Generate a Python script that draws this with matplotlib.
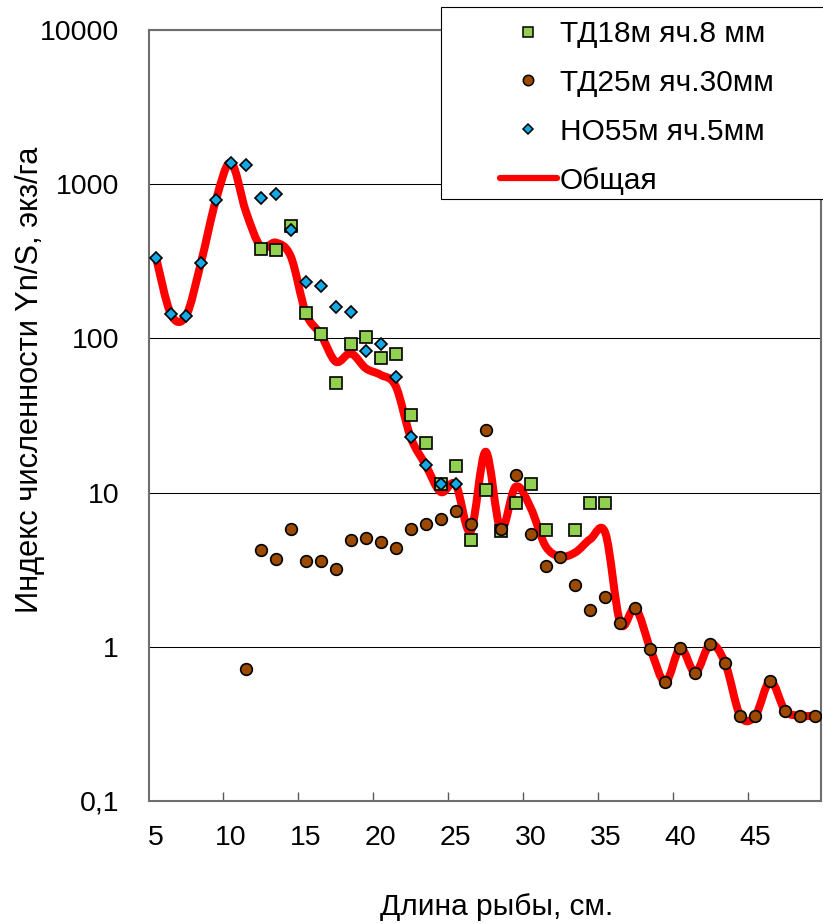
import numpy as np
import matplotlib
matplotlib.use("Agg")
import matplotlib.pyplot as plt
from matplotlib.path import Path
from matplotlib.patches import PathPatch, Rectangle
from matplotlib.lines import Line2D
from matplotlib.ticker import NullLocator

plt.rcParams["font.family"] = ["Liberation Sans", "DejaVu Sans"]

# ТД18м, ячея 8 мм
td18_len = [12, 13, 14, 15, 16, 17, 18, 19, 20, 21, 22, 23, 24, 25, 26, 27, 28, 29, 30, 31, 33, 34, 35]
td18_val = [382, 373, 535, 147, 106, 51, 92, 102, 75, 79, 32, 21, 11.3, 14.9, 4.9, 10.4, 5.6, 8.5, 11.3,
            5.7, 5.7, 8.5, 8.5]

# ТД25м, ячея 30 мм
td25_len = list(range(11, 50))
td25_val = [0.72, 4.25, 3.7, 5.8, 3.6, 3.6, 3.2, 4.9, 5.1, 4.75, 4.35, 5.8, 6.3, 6.7, 7.6, 6.3, 25.5, 5.8,
            13.0, 5.4, 3.35, 3.85, 2.5, 1.73, 2.09, 1.42, 1.78, 0.97, 0.59, 0.98, 0.68, 1.04, 0.78, 0.357,
            0.357, 0.6, 0.385, 0.357, 0.357]

# НО55м, ячея 5 мм
no55_len = list(range(5, 26))
no55_val = [334, 143, 140, 310, 790, 1380, 1330, 810, 860, 505, 233, 220, 161, 148, 83, 92, 56.5, 22.8,
            15.1, 11.3, 11.3]

# общая кривая
total_len = list(range(5, 50))
total_val = [334, 143, 140, 310, 790, 1380, 664, 393, 418, 339, 146, 106, 70.6, 80, 64, 58, 49, 22.8,
             15.1, 10.1, 11.3, 5.6, 18.4, 5.8, 10.9, 8.0, 4.5, 3.85, 4.1, 5.0, 5.45, 1.42, 1.78, 0.97,
             0.59, 0.98, 0.68, 1.04, 0.78, 0.357, 0.357, 0.6, 0.385, 0.357, 0.357]

ytick_vals = [0.1, 1, 10, 100, 1000, 10000]
ytick_text = ["0,1", "1", "10", "100", "1000", "10000"]
xtick_vals = [5, 10, 15, 20, 25, 30, 35, 40, 45]


def smooth_path(xs, ys):
    # bezier through the points, tangents like a Catmull-Rom spline (log y)
    lx = np.asarray(xs, float)
    ly = np.log10(np.asarray(ys, float))
    n = len(lx)
    verts = [(lx[0], ly[0])]
    codes = [Path.MOVETO]
    for i in range(n - 1):
        i0 = max(i - 1, 0)
        i3 = min(i + 2, n - 1)
        c1 = (lx[i] + (lx[i + 1] - lx[i0]) / 6, ly[i] + (ly[i + 1] - ly[i0]) / 6)
        c2 = (lx[i + 1] - (lx[i3] - lx[i]) / 6, ly[i + 1] - (ly[i3] - ly[i]) / 6)
        verts += [c1, c2, (lx[i + 1], ly[i + 1])]
        codes += [Path.CURVE4] * 3
    v = np.array(verts)
    v[:, 1] = 10 ** v[:, 1]
    return Path(v, codes)


fig = plt.figure(figsize=(8.23, 9.24), dpi=100)
ax = fig.add_axes([149 / 823, 123 / 924, 672 / 823, 771 / 924])

ax.add_patch(PathPatch(smooth_path(total_len, total_val), fill=False, edgecolor="#ff0000",
                       lw=5.8, capstyle="round", joinstyle="round", zorder=2))
ax.plot(td18_len, td18_val, ls="none", marker="s", ms=9, mfc="#92d050", mec="black", mew=1.2, zorder=3)
ax.plot(td25_len, td25_val, ls="none", marker="o", ms=8.4, mfc="#9c4a00", mec="black", mew=1.2, zorder=4)
ax.plot(no55_len, no55_val, ls="none", marker="D", ms=6.1, mfc="#13a9e6", mec="black", mew=1.2, zorder=5)

ax.set_yscale("log")
ax.set_ylim(0.1, 10000)
ax.set_xlim(4.53, 49.39)
ax.set_yticks(ytick_vals)
ax.set_yticklabels(ytick_text)
ax.yaxis.set_minor_locator(NullLocator())
ax.tick_params(axis="y", length=0, pad=21.6, labelsize=20.5)
ax.grid(axis="y", color="black", lw=0.75)

ax.set_xticks(np.arange(9.5, 45, 5))
ax.set_xticks(xtick_vals, minor=True)
ax.set_xticklabels([str(v) for v in xtick_vals], minor=True)
ax.tick_params(axis="x", which="major", direction="in", length=6.7, width=1, color="#595959",
               labelbottom=False)
ax.tick_params(axis="x", which="minor", length=0, pad=17, labelsize=20.5)

for s in ax.spines.values():
    s.set_color("#6e6e6e")
    s.set_linewidth(1.5)

fig.text(30 / 823, 1 - 380 / 924, "Индекс численности Yn/S, экз/га", rotation=90,
         ha="center", va="center", fontsize=22.2)
fig.text(497 / 823, 1 - 907 / 924, "Длина рыбы, см.", ha="center", va="center", fontsize=21.5)

# рамка легенды
fig.add_artist(Rectangle((441 / 823, 1 - 199 / 924), 0.5, 192 / 924, transform=fig.transFigure,
                         facecolor="white", edgecolor="black", lw=0.8, zorder=5))
handles = [
    Line2D([], [], ls="none", marker="s", ms=7.5, mfc="#92d050", mec="black", mew=1.1),
    Line2D([], [], ls="none", marker="o", ms=7.5, mfc="#9c4a00", mec="black", mew=1.1),
    Line2D([], [], ls="none", marker="D", ms=5.4, mfc="#13a9e6", mec="black", mew=1.1),
    Line2D([], [], color="#ff0000", lw=4.5, solid_capstyle="round"),
]
labels = ["ТД18м яч.8 мм", "ТД25м яч.30мм", "НО55м яч.5мм", "Общая"]
leg = fig.legend(handles, labels, loc="upper left", bbox_to_anchor=(500 / 823, 1 - 20 / 924),
                 frameon=False, fontsize=21.5, handlelength=1.9, handletextpad=0.1,
                 labelspacing=0.7, borderpad=0, borderaxespad=0)
leg.set_zorder(6)

fig.savefig("out.png", dpi=100)
